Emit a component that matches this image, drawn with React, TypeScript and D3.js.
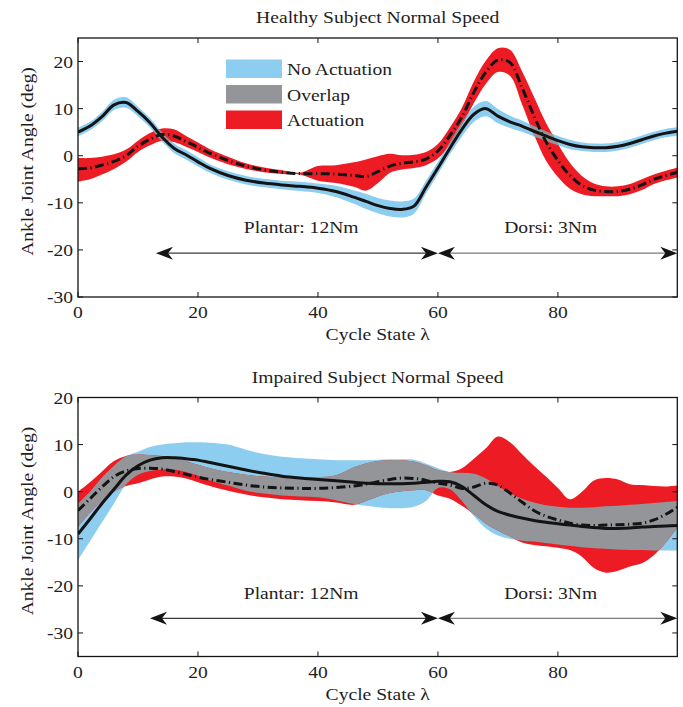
import React from 'react';
import * as d3 from 'd3';

// ---------- data ----------
const CYCLE = [0, 2, 4, 6, 8, 10, 12, 14, 16, 18, 20, 22, 25, 28, 31, 34, 37, 40, 43, 46, 48, 50, 52, 54, 56, 58, 60, 62, 64, 66, 68, 70, 72, 74, 76, 78, 80, 82, 84, 86, 88, 90, 92, 94, 96, 98, 100];

// Healthy subject – no actuation (mean line, band low, band high)
const HEALTHY_NOACT_MEAN = [5.0, 6.3, 8.3, 10.8, 11.3, 9.4, 7.0, 4.0, 1.6, 0.2, -1.3, -2.7, -4.2, -5.2, -5.8, -6.2, -6.5, -6.9, -7.6, -8.8, -9.7, -10.6, -11.2, -11.4, -10.7, -6.7, -2.6, 1.6, 5.6, 8.8, 10.0, 8.4, 7.2, 6.3, 5.2, 4.2, 3.2, 2.4, 1.9, 1.7, 1.7, 2.0, 2.6, 3.4, 4.2, 4.8, 5.2];
const HEALTHY_NOACT_LO = [4.1, 5.4, 7.3, 9.7, 10.2, 8.4, 6.0, 3.0, 0.6, -0.8, -2.3, -3.6, -5.1, -6.1, -6.7, -7.1, -7.5, -7.9, -8.8, -10.2, -11.3, -12.2, -12.9, -13.1, -12.3, -8.1, -3.9, 0.3, 4.1, 7.2, 8.4, 6.9, 5.9, 5.1, 4.1, 3.2, 2.2, 1.4, 1.0, 0.8, 0.8, 1.1, 1.7, 2.5, 3.3, 3.9, 4.3];
const HEALTHY_NOACT_HI = [5.9, 7.2, 9.3, 11.9, 12.4, 10.4, 8.0, 5.0, 2.6, 1.2, -0.3, -1.8, -3.3, -4.3, -4.9, -5.3, -5.5, -5.9, -6.4, -7.4, -8.1, -9.0, -9.5, -9.7, -9.1, -5.3, -1.3, 2.9, 7.1, 10.4, 11.6, 9.9, 8.5, 7.5, 6.3, 5.2, 4.2, 3.4, 2.8, 2.6, 2.6, 2.9, 3.5, 4.3, 5.1, 5.7, 6.1];

// Healthy subject – actuation
const HEALTHY_ACT_MEAN = [-2.8, -2.6, -2.0, -1.2, 0.0, 2.0, 3.5, 4.5, 4.2, 3.0, 1.8, 0.5, -1.0, -2.2, -3.0, -3.5, -3.8, -3.8, -3.9, -4.2, -4.4, -3.4, -2.2, -1.6, -1.3, -0.7, 1.0, 4.3, 8.3, 13.5, 17.8, 20.3, 19.8, 14.5, 8.5, 3.0, -1.0, -4.2, -6.3, -7.3, -7.6, -7.6, -7.1, -6.2, -5.0, -4.2, -3.5];
const HEALTHY_ACT_LO = [-5.5, -5.0, -4.0, -2.8, -1.3, 0.8, 2.2, 3.2, 2.9, 1.9, 0.8, -0.4, -1.8, -2.8, -3.5, -3.9, -4.0, -5.3, -5.8, -6.6, -7.4, -5.8, -3.6, -2.9, -2.6, -2.0, -0.6, 2.5, 6.5, 11.2, 15.3, 17.8, 17.0, 11.0, 4.5, -1.0, -4.5, -7.0, -8.2, -8.6, -8.6, -8.6, -8.2, -7.3, -6.0, -5.2, -4.6];
const HEALTHY_ACT_HI = [-0.5, -0.5, -0.2, 0.3, 1.3, 3.2, 4.8, 5.8, 5.6, 4.2, 2.8, 1.4, -0.2, -1.6, -2.5, -3.1, -3.6, -2.2, -2.0, -1.4, -0.8, -0.1, 0.4, 0.1, 0.2, 0.8, 2.5, 6.0, 10.2, 15.8, 20.2, 22.8, 22.5, 18.0, 12.5, 7.0, 2.5, -1.5, -4.3, -5.9, -6.5, -6.5, -6.0, -5.0, -4.0, -3.2, -2.5];

// Impaired subject – no actuation
const IMPAIRED_NOACT_MEAN = [-9.0, -5.8, -2.5, 0.5, 3.5, 5.5, 6.7, 7.2, 7.2, 7.0, 6.7, 6.2, 5.4, 4.6, 3.9, 3.3, 2.9, 2.6, 2.3, 2.0, 1.8, 1.7, 1.7, 1.7, 1.8, 2.0, 2.2, 2.1, 1.1, -0.8, -2.8, -4.2, -5.0, -5.6, -6.1, -6.5, -6.8, -7.1, -7.4, -7.6, -7.8, -7.8, -7.7, -7.5, -7.4, -7.3, -7.2];
const IMPAIRED_NOACT_LO = [-14.5, -10.5, -6.5, -2.5, 1.5, 3.6, 4.4, 4.7, 4.7, 4.2, 3.4, 2.4, 1.3, 0.2, -0.4, -0.8, -1.0, -1.2, -1.8, -2.6, -3.0, -3.3, -3.5, -3.5, -3.2, -2.0, 0.8, 0.5, -2.0, -5.2, -7.8, -9.3, -10.0, -10.4, -10.6, -10.9, -11.2, -11.5, -11.8, -12.0, -12.1, -12.3, -12.4, -12.4, -12.5, -12.5, -12.5];
const IMPAIRED_NOACT_HI = [-2.5, 0.0, 3.0, 5.5, 7.5, 8.5, 9.5, 10.0, 10.3, 10.5, 10.5, 10.4, 10.0, 8.9, 8.0, 7.4, 7.1, 6.9, 6.7, 6.7, 6.7, 6.8, 6.9, 6.9, 6.8, 6.0, 5.0, 4.2, 4.0, 3.8, 2.8, 1.2, -0.3, -1.5, -2.3, -2.9, -3.2, -3.4, -3.4, -3.3, -3.1, -3.0, -2.8, -2.6, -2.4, -2.2, -2.0];

// Impaired subject – actuation
const IMPAIRED_ACT_MEAN = [-4.0, -1.5, 1.0, 3.2, 4.4, 4.9, 5.0, 4.8, 4.3, 3.7, 3.1, 2.6, 2.0, 1.4, 1.0, 0.8, 0.7, 0.7, 0.9, 1.2, 1.6, 2.1, 2.6, 2.9, 2.8, 2.4, 1.8, 1.4, 0.7, 1.0, 1.8, 1.4, -0.3, -2.2, -4.0, -5.2, -6.0, -6.7, -7.1, -7.2, -7.1, -7.0, -6.9, -6.7, -6.0, -4.8, -3.2];
const IMPAIRED_ACT_LO = [-7.5, -4.5, -2.0, 0.0, 1.2, 1.8, 2.6, 3.2, 3.2, 2.8, 2.0, 1.2, 0.2, -0.6, -1.2, -1.6, -1.8, -2.0, -2.3, -2.8, -2.0, -1.0, -0.3, 0.1, 0.3, 0.3, -0.8, -1.5, -3.0, -4.8, -6.8, -8.3, -9.5, -10.8, -11.3, -11.6, -11.9, -12.4, -13.8, -16.2, -17.2, -16.8, -15.9, -15.2, -13.5, -10.8, -7.5];
const IMPAIRED_ACT_HI = [0.0, 2.0, 4.3, 6.5, 7.6, 7.9, 7.8, 7.6, 7.2, 6.5, 5.7, 5.0, 4.2, 3.6, 3.2, 3.0, 3.0, 3.1, 3.5, 5.2, 6.0, 6.5, 6.7, 6.7, 6.4, 5.6, 4.6, 4.2, 5.0, 7.0, 9.2, 11.7, 10.5, 8.0, 5.5, 3.2, 0.8, -1.6, 0.0, 2.4, 2.9, 2.6, 1.6, 1.4, 1.2, 1.1, 1.3];

const X_TICKS = [0, 20, 40, 60, 80];
const Y_TICKS = [-30, -20, -10, 0, 10, 20];
const LEGEND_LABELS = ['No Actuation', 'Overlap', 'Actuation'];
const PLANTAR_LABEL = 'Plantar: 12Nm';
const DORSI_LABEL = 'Dorsi: 3Nm';
const PLANTAR_CENTER = 37.2;
const DORSI_CENTER = 78.8;
const X_LABEL = 'Cycle State \u03bb';
const Y_LABEL = 'Ankle Joint Angle (deg)';

// ---------- style ----------
const BLUE = '#8DCDF0';
const GRAY = '#949599';
const RED = '#ED1C24';
const INK = '#141414';
const FONT = 'Liberation Serif, DejaVu Serif, Times New Roman, serif';
const SX = 1.12;
const FS = 17.5;
const L = 78;
const R = 677.3;

const PANELS = [
  {
    id: 'healthy',
    title: 'Healthy Subject Normal Speed',
    top: 38,
    bottom: 297,
    yDomain: [-30, 25],
    noAct: [HEALTHY_NOACT_MEAN, HEALTHY_NOACT_LO, HEALTHY_NOACT_HI],
    act: [HEALTHY_ACT_MEAN, HEALTHY_ACT_LO, HEALTHY_ACT_HI],
    arrowY: -20.7,
    arrows: [[13, 60], [60, 99.9]],
    labelY: -16.4,
    legend: true,
  },
  {
    id: 'impaired',
    title: 'Impaired Subject Normal Speed',
    top: 397.5,
    bottom: 656.5,
    yDomain: [-35, 20],
    noAct: [IMPAIRED_NOACT_MEAN, IMPAIRED_NOACT_LO, IMPAIRED_NOACT_HI],
    act: [IMPAIRED_ACT_MEAN, IMPAIRED_ACT_LO, IMPAIRED_ACT_HI],
    arrowY: -26.9,
    arrows: [[12, 60], [60, 99.9]],
    labelY: -22.8,
    legend: false,
  },
];

function T({ x, y, anchor = 'middle', size = FS, rotate = 0, children }: any) {
  return (
    <g transform={`translate(${x},${y}) rotate(${rotate}) scale(${SX},1)`}>
      <text textAnchor={anchor} style={{ fontFamily: FONT, fontSize: size }} fill="#1e1e1e">
        {children}
      </text>
    </g>
  );
}

function head(tx: number, ty: number, dir: number) {
  return `M${tx},${ty} L${tx - dir * 17},${ty - 6.5} L${tx - dir * 12},${ty} L${tx - dir * 17},${ty + 6.5} Z`;
}

function Panel({ p }: any) {
  const x = d3.scaleLinear().domain([0, 99.9]).range([L, R]);
  const y = d3.scaleLinear().domain(p.yDomain).range([p.bottom, p.top]);
  const curve = d3.curveCatmullRom.alpha(0.5);
  const area = (lo: number[], hi: number[]) =>
    d3
      .area<number>()
      .x((_, i) => x(CYCLE[i]))
      .y0((_, i) => y(lo[i]))
      .y1((_, i) => y(hi[i]))
      .curve(curve)(CYCLE) as string;
  const line = (m: number[]) =>
    d3
      .line<number>()
      .x((_, i) => x(CYCLE[i]))
      .y((_, i) => y(m[i]))
      .curve(curve)(CYCLE) as string;

  const [nm, nlo, nhi] = p.noAct;
  const [am, alo, ahi] = p.act;
  const blueD = area(nlo, nhi);
  const redD = area(alo, ahi);
  const midY = (p.top + p.bottom) / 2 - 6;
  const ay = y(p.arrowY);

  return (
    <g>
      <defs>
        <clipPath id={`plot-${p.id}`}>
          <rect x={L} y={p.top} width={R - L} height={p.bottom - p.top} />
        </clipPath>
        <clipPath id={`blue-${p.id}`}>
          <path d={blueD} />
        </clipPath>
      </defs>
      <g clipPath={`url(#plot-${p.id})`}>
        <path d={blueD} fill={BLUE} />
        <path d={redD} fill={RED} />
        <path d={redD} fill={GRAY} clipPath={`url(#blue-${p.id})`} />
        <path d={line(nm)} fill="none" stroke={INK} strokeWidth={3} strokeLinejoin="round" />
        <path d={line(am)} fill="none" stroke={INK} strokeWidth={3} strokeDasharray="9,3.5,1.2,3.5" />
      </g>

      {p.arrows.map((a: number[], i: number) => {
        const x1 = x(a[0]);
        const x2 = x(a[1]);
        return (
          <g key={i}>
            <line x1={x1 + 4} x2={x2 - 4} y1={ay} y2={ay} stroke={i === 0 ? '#3a3a3a' : '#7a7a7a'} strokeWidth={1.3} />
            <path d={head(x1, ay, -1)} fill={INK} />
            <path d={head(x2, ay, 1)} fill={INK} />
          </g>
        );
      })}
      <T x={x(PLANTAR_CENTER)} y={y(p.labelY)}>{PLANTAR_LABEL}</T>
      <T x={x(DORSI_CENTER)} y={y(p.labelY)}>{DORSI_LABEL}</T>

      {X_TICKS.map((t) => (
        <g key={`xt${t}`}>
          <line x1={x(t)} x2={x(t)} y1={p.bottom} y2={p.bottom - 5} stroke={INK} strokeWidth={1} />
          <line x1={x(t)} x2={x(t)} y1={p.top} y2={p.top + 5} stroke={INK} strokeWidth={1} />
          <T x={x(t)} y={p.bottom + 21}>{String(t)}</T>
        </g>
      ))}
      {Y_TICKS.map((t) => (
        <g key={`yt${t}`}>
          <line x1={L} x2={L + 5} y1={y(t)} y2={y(t)} stroke={INK} strokeWidth={1} />
          <line x1={R} x2={R - 5} y1={y(t)} y2={y(t)} stroke={INK} strokeWidth={1} />
          <T x={73} y={y(t) + 6} anchor="end">{String(t)}</T>
        </g>
      ))}
      <rect x={L} y={p.top} width={R - L} height={p.bottom - p.top} fill="none" stroke={INK} strokeWidth={1.3} />

      <T x={(L + R) / 2} y={p.top - 15}>{p.title}</T>
      <T x={(L + R) / 2} y={p.bottom + 43}>{X_LABEL}</T>
      <T x={33} y={midY} rotate={-90}>{Y_LABEL}</T>

      {p.legend &&
        LEGEND_LABELS.map((lab, i) => (
          <g key={lab}>
            <rect x={226} y={59.5 + i * 25.5} width={56} height={18.5} fill={[BLUE, GRAY, RED][i]} />
            <T x={287} y={75 + i * 25.5} anchor="start">{lab}</T>
          </g>
        ))}
    </g>
  );
}

export default function App() {
  return (
    <svg width={683} height={707} style={{ position: 'absolute', left: 0, top: 0, background: '#fff' }}>
      <rect width={683} height={707} fill="#fff" />
      {PANELS.map((p) => (
        <Panel key={p.id} p={p} />
      ))}
    </svg>
  );
}
